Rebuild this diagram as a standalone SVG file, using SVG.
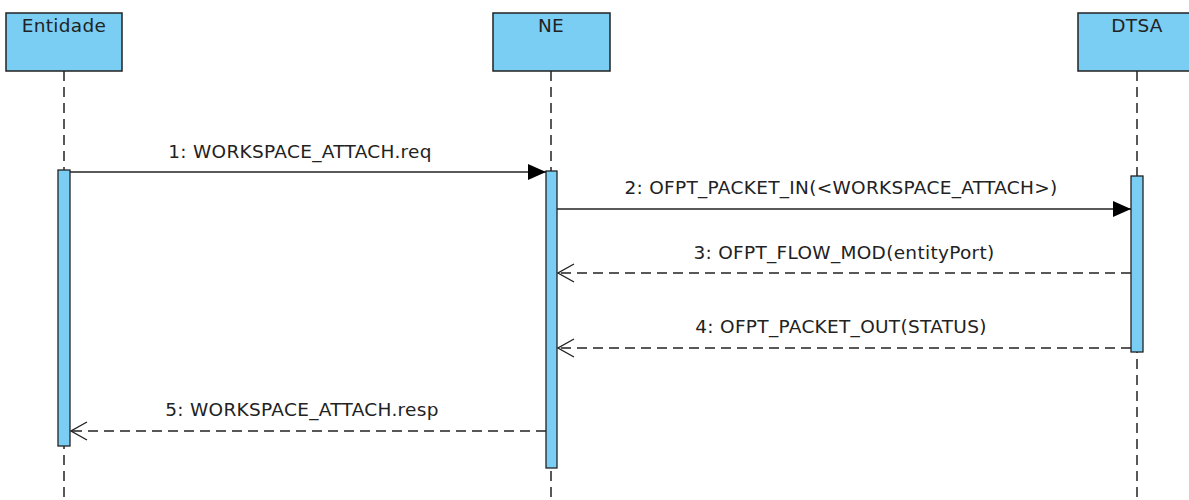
<svg xmlns="http://www.w3.org/2000/svg" width="1189" height="500" viewBox="0 0 1189 500">
<defs>
<style>
.box{fill:#7acef4;stroke:#222;stroke-width:1.5}
.act{fill:#7acef4;stroke:#222;stroke-width:1.3}
.life{stroke:#222;stroke-width:1.5;stroke-dasharray:10 6;fill:none}
.msg{stroke:#222;stroke-width:1.3;fill:none}
.ret{stroke:#222;stroke-width:1.3;fill:none;stroke-dasharray:10 6}
text{font-family:"DejaVu Sans",sans-serif;font-size:18.5px;letter-spacing:0.3px;fill:#222;text-anchor:middle}
</style>
<marker id="filled" markerWidth="20" markerHeight="16" refX="18" refY="8" orient="auto" markerUnits="userSpaceOnUse">
<path d="M0,0 L18,8 L0,16 Z" fill="#000"/>
</marker>
<marker id="open" markerWidth="20" markerHeight="20" refX="17" refY="10" orient="auto" markerUnits="userSpaceOnUse">
<path d="M1,1 L17,10 L1,19" fill="none" stroke="#222" stroke-width="1.4"/>
</marker>
</defs>
<g id="lifelines">
<line class="life" x1="64" y1="71" x2="64" y2="500"/>
<line class="life" x1="551" y1="71" x2="551" y2="500"/>
<line class="life" x1="1137" y1="71" x2="1137" y2="500"/>
</g>
<g id="Entidade">
<rect class="box" x="6" y="13" width="116" height="58"/>
<text x="64" y="32">Entidade</text>
<rect class="act" x="58" y="170" width="12" height="276"/>
</g>
<g id="NE">
<rect class="box" x="493" y="13" width="117" height="58"/>
<text x="551" y="32">NE</text>
<rect class="act" x="546" y="171" width="11" height="297"/>
</g>
<g id="DTSA">
<rect class="box" x="1078" y="13" width="118" height="58"/>
<text x="1137" y="32">DTSA</text>
<rect class="act" x="1131" y="176" width="12" height="176"/>
</g>
<g id="connectors">
<line class="msg" x1="70" y1="172" x2="546" y2="172" marker-end="url(#filled)"/>
<text x="300" y="158">1: WORKSPACE_ATTACH.req</text>
<line class="msg" x1="557" y1="209" x2="1131" y2="209" marker-end="url(#filled)"/>
<text x="841" y="194">2: OFPT_PACKET_IN(&lt;WORKSPACE_ATTACH&gt;)</text>
<line class="ret" x1="1131" y1="273" x2="558" y2="273" marker-end="url(#open)"/>
<text x="844" y="259">3: OFPT_FLOW_MOD(entityPort)</text>
<line class="ret" x1="1131" y1="348" x2="558" y2="348" marker-end="url(#open)"/>
<text x="841" y="333">4: OFPT_PACKET_OUT(STATUS)</text>
<line class="ret" x1="546" y1="431" x2="71" y2="431" marker-end="url(#open)"/>
<text x="302" y="416">5: WORKSPACE_ATTACH.resp</text>
</g>
</svg>
